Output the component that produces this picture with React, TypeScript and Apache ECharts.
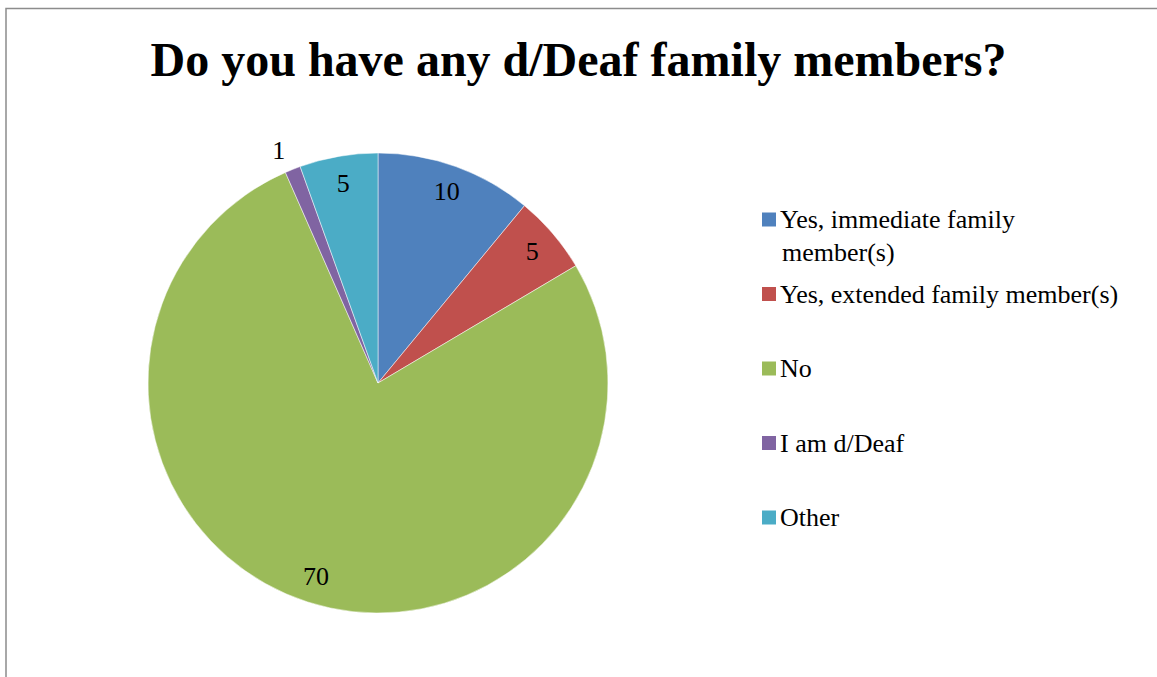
import React, { useEffect, useRef } from "react";
import * as echarts from "echarts";

const titleText = "Do you have any d/Deaf family members?";
const categories = [
  "Yes, immediate family member(s)",
  "Yes, extended family member(s)",
  "No",
  "I am d/Deaf",
  "Other",
];
const values = [10, 5, 70, 1, 5];
const colors = ["#4F81BD", "#C0504D", "#9BBB59", "#8064A2", "#4BACC6"];
const outsideLabelIndex = [3];

const FONT = '"Liberation Serif", "Times New Roman", serif';

export default function App() {
  const ref = useRef<HTMLDivElement>(null);
  useEffect(() => {
    if (!ref.current) return;
    const chart = echarts.init(ref.current, undefined, { renderer: "svg" });
    const baseData = categories.map((name, i) => ({
      name,
      value: values[i],
      itemStyle: { color: colors[i] },
    }));
    const labelData = categories.map((name, i) => {
      const outside = outsideLabelIndex.includes(i);
      return {
        name,
        value: values[i],
        label: outside
          ? { position: "outside", distanceToLabelLine: 0 }
          : { position: "inside" },
        labelLine: { show: false, length: 20, length2: 0 },
      };
    });
    chart.setOption({
      animation: false,
      backgroundColor: "#ffffff",
      title: {
        text: titleText,
        left: "center",
        top: 30,
        textStyle: {
          fontFamily: FONT,
          fontSize: 48,
          fontWeight: "bold",
          color: "#000",
        },
      },
      legend: {
        orient: "vertical",
        left: 762,
        top: 206.5,
        padding: 0,
        itemWidth: 14,
        itemHeight: 14,
        itemGap: 48.5,
        itemStyle: { borderWidth: 0 },
        icon: "rect",
        data: categories,
        selectedMode: false,
        formatter: (name: string) =>
          name === categories[0] ? "Yes, immediate family" : name,
        textStyle: {
          fontFamily: FONT,
          fontSize: 26,
          color: "#000",
          padding: [0, 0, 0, -1],
        },
      },
      graphic: [
        {
          type: "rect",
          silent: true,
          shape: { x: 6, y: 8.5, width: 1300, height: 800 },
          style: { fill: "none", stroke: "#8c8c8c", lineWidth: 1.5 },
        },
        {
          type: "text",
          left: 782,
          top: 239,
          silent: true,
          style: {
            text: "member(s)",
            font: `26px ${FONT}`,
            fill: "#000",
          },
        },
      ],
      series: [
        {
          type: "pie",
          center: [378, 383],
          radius: 230,
          startAngle: 90,
          clockwise: true,
          silent: true,
          label: { show: false },
          labelLine: { show: false },
          itemStyle: { borderColor: "#ffffff", borderWidth: 0.5 },
          data: baseData,
        },
        {
          type: "pie",
          center: [378, 383],
          radius: [170, 230],
          startAngle: 90,
          clockwise: true,
          silent: true,
          itemStyle: { color: "rgba(0,0,0,0)" },
          label: {
            show: true,
            formatter: "{c}",
            fontFamily: FONT,
            fontSize: 26,
            color: "#000",
          },
          data: labelData,
        },
      ],
    });
    return () => chart.dispose();
  }, []);
  return (
    <div
      ref={ref}
      style={{ position: "absolute", left: 0, top: 0, width: 1157, height: 677 }}
    />
  );
}
